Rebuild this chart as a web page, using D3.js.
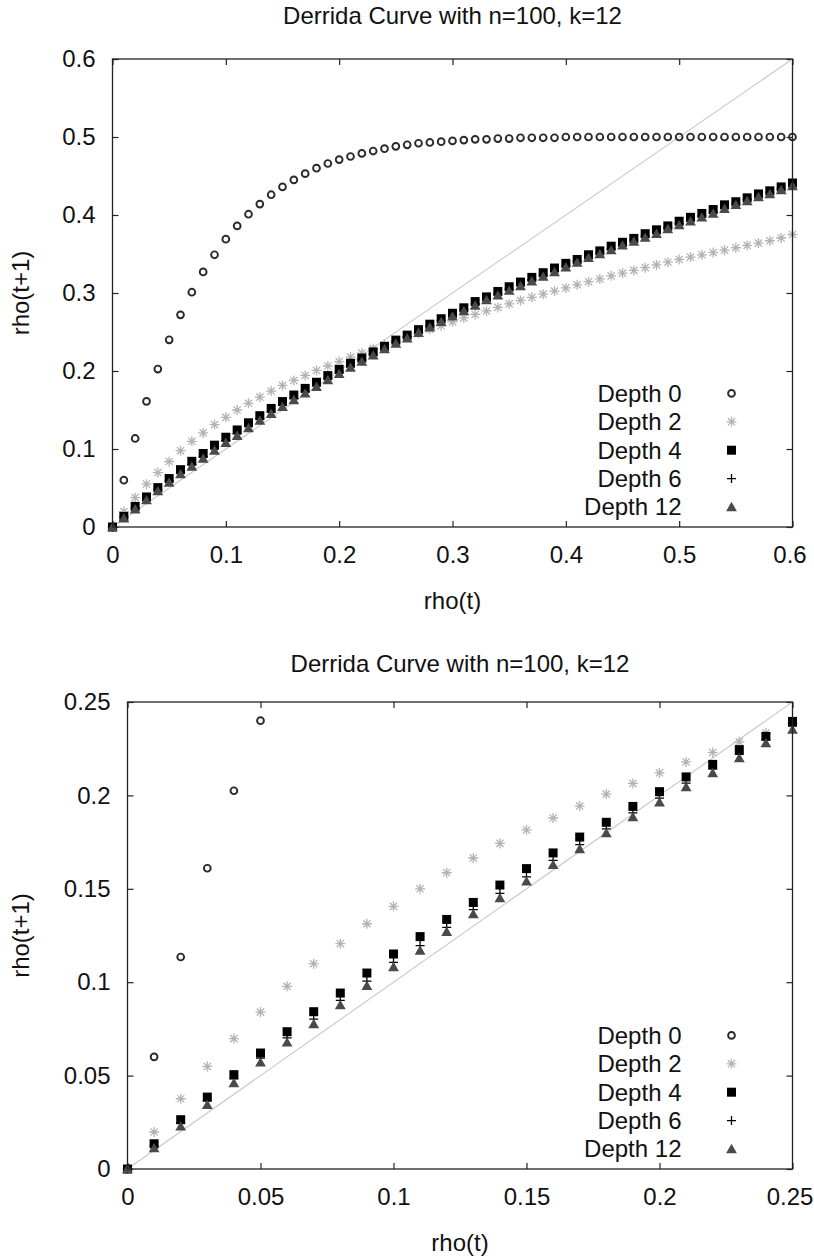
<!DOCTYPE html>
<html>
<head>
<meta charset="utf-8">
<script src="https://d3js.org/d3.v7.min.js"></script>
<style>
body { margin: 0; background: #fff; }
text { font-family: "Liberation Sans", Arial, sans-serif; }
</style>
</head>
<body>
<div id="chart-area"></div>
<script>
var width = 814;
var height = 1258;

var rho = [0, 0.01, 0.02, 0.03, 0.04, 0.05, 0.06, 0.07, 0.08, 0.09,
	0.10, 0.11, 0.12, 0.13, 0.14, 0.15, 0.16, 0.17, 0.18, 0.19,
	0.20, 0.21, 0.22, 0.23, 0.24, 0.25, 0.26, 0.27, 0.28, 0.29,
	0.30, 0.31, 0.32, 0.33, 0.34, 0.35, 0.36, 0.37, 0.38, 0.39,
	0.40, 0.41, 0.42, 0.43, 0.44, 0.45, 0.46, 0.47, 0.48, 0.49,
	0.50, 0.51, 0.52, 0.53, 0.54, 0.55, 0.56, 0.57, 0.58, 0.59, 0.60];

var depth0 = [0, 0.060, 0.1135, 0.161, 0.2025, 0.240, 0.272, 0.301, 0.327, 0.349,
	0.369, 0.386, 0.401, 0.414, 0.426, 0.436, 0.445, 0.453, 0.460, 0.466,
	0.471, 0.475, 0.479, 0.482, 0.485, 0.488, 0.490, 0.492, 0.493, 0.494,
	0.495, 0.496, 0.497, 0.497, 0.498, 0.498, 0.499, 0.499, 0.499, 0.499,
	0.500, 0.500, 0.500, 0.500, 0.500, 0.500, 0.500, 0.500, 0.500, 0.500,
	0.500, 0.500, 0.500, 0.500, 0.500, 0.500, 0.500, 0.500, 0.500, 0.500, 0.500];

var depth2 = [0, 0.0198, 0.0376, 0.0549, 0.0698, 0.0840, 0.0978, 0.1099, 0.1206, 0.1313,
	0.1406, 0.1500, 0.1586, 0.1665, 0.1743, 0.1815, 0.1879, 0.1943, 0.2007, 0.2064,
	0.2121, 0.2179, 0.2230, 0.2287, 0.2334, 0.2385, 0.2435, 0.2485, 0.2535, 0.258,
	0.263, 0.268, 0.2725, 0.277, 0.2815, 0.286, 0.2905, 0.2945, 0.2985, 0.3025,
	0.3065, 0.3105, 0.3145, 0.318, 0.322, 0.3255, 0.329, 0.3325, 0.336, 0.3395,
	0.343, 0.346, 0.349, 0.352, 0.355, 0.358, 0.361, 0.364, 0.367, 0.3705, 0.375];

var depth4 = [0, 0.0135, 0.0264, 0.0385, 0.0505, 0.0621, 0.0735, 0.0842, 0.0942, 0.1049,
	0.1151, 0.1244, 0.1336, 0.1427, 0.1520, 0.1608, 0.1692, 0.1777, 0.1856, 0.1941,
	0.2020, 0.2099, 0.2166, 0.2245, 0.2316, 0.2396, 0.246, 0.253, 0.260, 0.267,
	0.274, 0.281, 0.289, 0.295, 0.302, 0.308, 0.314, 0.320, 0.326, 0.332,
	0.338, 0.343, 0.349, 0.354, 0.360, 0.365, 0.370, 0.376, 0.381, 0.386,
	0.392, 0.397, 0.402, 0.407, 0.413, 0.417, 0.422, 0.427, 0.431, 0.436, 0.441];

var depth6 = [0, 0.0125, 0.0245, 0.0365, 0.0482, 0.0594, 0.0702, 0.0802, 0.0903, 0.1006,
	0.1106, 0.1196, 0.1294, 0.1389, 0.1476, 0.1564, 0.1652, 0.1736, 0.1821, 0.1906,
	0.1985, 0.2066, 0.2141, 0.2220, 0.2299, 0.2371, 0.244, 0.251, 0.258, 0.265,
	0.272, 0.279, 0.286, 0.293, 0.299, 0.305, 0.311, 0.317, 0.323, 0.329,
	0.335, 0.341, 0.347, 0.352, 0.357, 0.363, 0.368, 0.373, 0.378, 0.384,
	0.389, 0.394, 0.399, 0.404, 0.410, 0.415, 0.420, 0.425, 0.429, 0.434, 0.439];

var depth12 = [0, 0.0112, 0.0228, 0.0344, 0.0460, 0.0571, 0.0678, 0.0776, 0.0878, 0.0981,
	0.1081, 0.1170, 0.1270, 0.1365, 0.1451, 0.1540, 0.1629, 0.1713, 0.1799, 0.1884,
	0.1963, 0.2045, 0.2120, 0.2200, 0.2280, 0.2352, 0.242, 0.249, 0.256, 0.263,
	0.270, 0.277, 0.284, 0.291, 0.297, 0.303, 0.309, 0.315, 0.321, 0.327,
	0.333, 0.339, 0.345, 0.350, 0.355, 0.361, 0.366, 0.371, 0.376, 0.382,
	0.387, 0.392, 0.397, 0.402, 0.408, 0.413, 0.418, 0.423, 0.427, 0.432, 0.437];

var seriesNames = ["Depth 0", "Depth 2", "Depth 4", "Depth 6", "Depth 12"];
var seriesValues = [depth0, depth2, depth4, depth6, depth12];

var ticksTop = [0, 0.1, 0.2, 0.3, 0.4, 0.5, 0.6];
var ticksBottom = [0, 0.05, 0.1, 0.15, 0.2, 0.25];

var titleText = "Derrida Curve with n=100, k=12";
var xLabelText = "rho(t)";
var yLabelText = "rho(t+1)";

// marker look for each series, same order as seriesNames
var markers = [
	{ type: "circle", color: "#2a2a2a" },
	{ type: "star", color: "#b3b3b3" },
	{ type: "square", color: "#000000" },
	{ type: "plus", color: "#000000" },
	{ type: "triangle", color: "#4a4a4a" }
];

var svg = d3.select("#chart-area")
	.append("svg")
	.attr("width", width)
	.attr("height", height);

svg.append("rect").attr("width", width).attr("height", height).attr("fill", "#fff");

function drawMarker(sel, m) {
	if (m.type == "circle") {
		sel.append("circle").attr("r", 3.4)
			.attr("fill", "none").attr("stroke", m.color).attr("stroke-width", 1.9);
	} else if (m.type == "star") {
		sel.append("path")
			.attr("d", "M-5,0H5M0,-5V5M-3.6,-3.6L3.6,3.6M-3.6,3.6L3.6,-3.6")
			.attr("stroke", m.color).attr("stroke-width", 1.3).attr("fill", "none");
	} else if (m.type == "square") {
		sel.append("rect").attr("x", -4.5).attr("y", -4.5)
			.attr("width", 9).attr("height", 9).attr("fill", m.color);
	} else if (m.type == "plus") {
		sel.append("path").attr("d", "M-4.5,0H4.5M0,-4.5V4.5")
			.attr("stroke", m.color).attr("stroke-width", 1.3).attr("fill", "none");
	} else {
		sel.append("path").attr("d", "M0,-5.2L5.4,4.2L-5.4,4.2Z").attr("fill", m.color);
	}
}

function drawPanel(cfg, id) {
	var w = cfg.right - cfg.left;
	var h = cfg.bottom - cfg.top;
	var maxV = cfg.ticks[cfg.ticks.length - 1];

	var g = svg.append("g")
		.attr("transform", "translate(" + cfg.left + ", " + cfg.top + ")");

	var x = d3.scaleLinear().domain([0, maxV]).range([0, w]);
	var y = d3.scaleLinear().domain([0, maxV]).range([h, 0]);
	var fmt = d3.format("~g");

	g.append("clipPath").attr("id", "clip" + id)
		.append("rect").attr("width", w).attr("height", h);

	var bottomAxis = d3.axisBottom(x).tickValues(cfg.ticks).tickFormat(fmt)
		.tickSizeInner(-6).tickSizeOuter(0).tickPadding(19);
	var leftAxis = d3.axisLeft(y).tickValues(cfg.ticks).tickFormat(fmt)
		.tickSizeInner(-6).tickSizeOuter(0).tickPadding(17);
	var topAxis = d3.axisTop(x).tickValues(cfg.ticks).tickFormat("")
		.tickSizeInner(-6).tickSizeOuter(0);
	var rightAxis = d3.axisRight(y).tickValues(cfg.ticks).tickFormat("")
		.tickSizeInner(-6).tickSizeOuter(0);

	var xAxisGroup = g.append("g").attr("transform", "translate(0, " + h + ")").call(bottomAxis);
	var axes = [
		xAxisGroup,
		g.append("g").call(leftAxis),
		g.append("g").call(topAxis),
		g.append("g").attr("transform", "translate(" + w + ", 0)").call(rightAxis)
	];
	axes.forEach(function(a) {
		a.select(".domain").remove();
		a.selectAll(".tick line").attr("stroke", "#222").attr("stroke-width", 1.2);
		a.selectAll(".tick text").attr("font-size", "24px").attr("fill", "#111")
			.style("font-family", "'Liberation Sans', Arial, sans-serif");
	});
	// keep the last x label inside the page edge
	xAxisGroup.selectAll(".tick text").filter(function(d) { return d == maxV; })
		.attr("dx", "-3");

	// diagonal y = x
	g.append("path")
		.datum([0, maxV])
		.attr("clip-path", "url(#clip" + id + ")")
		.attr("fill", "none")
		.attr("stroke", "#c8c8c8")
		.attr("stroke-width", 1.1)
		.attr("d", d3.line().x(function(d) { return x(d); }).y(function(d) { return y(d); }));

	seriesValues.forEach(function(vals, i) {
		var pts = rho.map(function(r, j) { return { r: r, v: vals[j] }; })
			.filter(function(d) { return d.r <= maxV + 1e-9 && d.v <= maxV + 1e-9; });
		var sel = g.append("g").selectAll("g").data(pts).enter().append("g")
			.attr("transform", function(d) { return "translate(" + x(d.r) + "," + y(d.v) + ")"; });
		drawMarker(sel, markers[i]);
	});

	g.append("rect").attr("width", w).attr("height", h)
		.attr("fill", "none").attr("stroke", "#222").attr("stroke-width", 1.3);

	// legend, bottom right inside
	var leg = g.append("g");
	seriesNames.forEach(function(name, i) {
		var ly = h - 20 - (seriesNames.length - 1 - i) * 28.4;
		leg.append("text")
			.attr("x", w - 111).attr("y", ly).attr("dy", "0.35em")
			.attr("text-anchor", "end").attr("font-size", "24px").attr("fill", "#111")
			.text(name);
		var mk = leg.append("g").attr("transform", "translate(" + (w - 61) + "," + ly + ")");
		drawMarker(mk, markers[i]);
	});

	g.append("text")
		.attr("x", w / 2).attr("y", -cfg.top + cfg.titleY)
		.attr("text-anchor", "middle").attr("font-size", "24px").attr("fill", "#111")
		.text(titleText);

	g.append("text")
		.attr("x", w / 2).attr("y", h + 82)
		.attr("text-anchor", "middle").attr("font-size", "24px").attr("fill", "#111")
		.text(xLabelText);

	g.append("text")
		.attr("transform", "rotate(-90)")
		.attr("x", -h / 2).attr("y", -cfg.left + 29)
		.attr("text-anchor", "middle").attr("font-size", "24px").attr("fill", "#111")
		.text(yLabelText);
}

drawPanel({ left: 112.5, right: 792.5, top: 59, bottom: 527, ticks: ticksTop, titleY: 24 }, 1);
drawPanel({ left: 127.5, right: 792.5, top: 702, bottom: 1169, ticks: ticksBottom, titleY: 672 }, 2);
</script>
</body>
</html>
